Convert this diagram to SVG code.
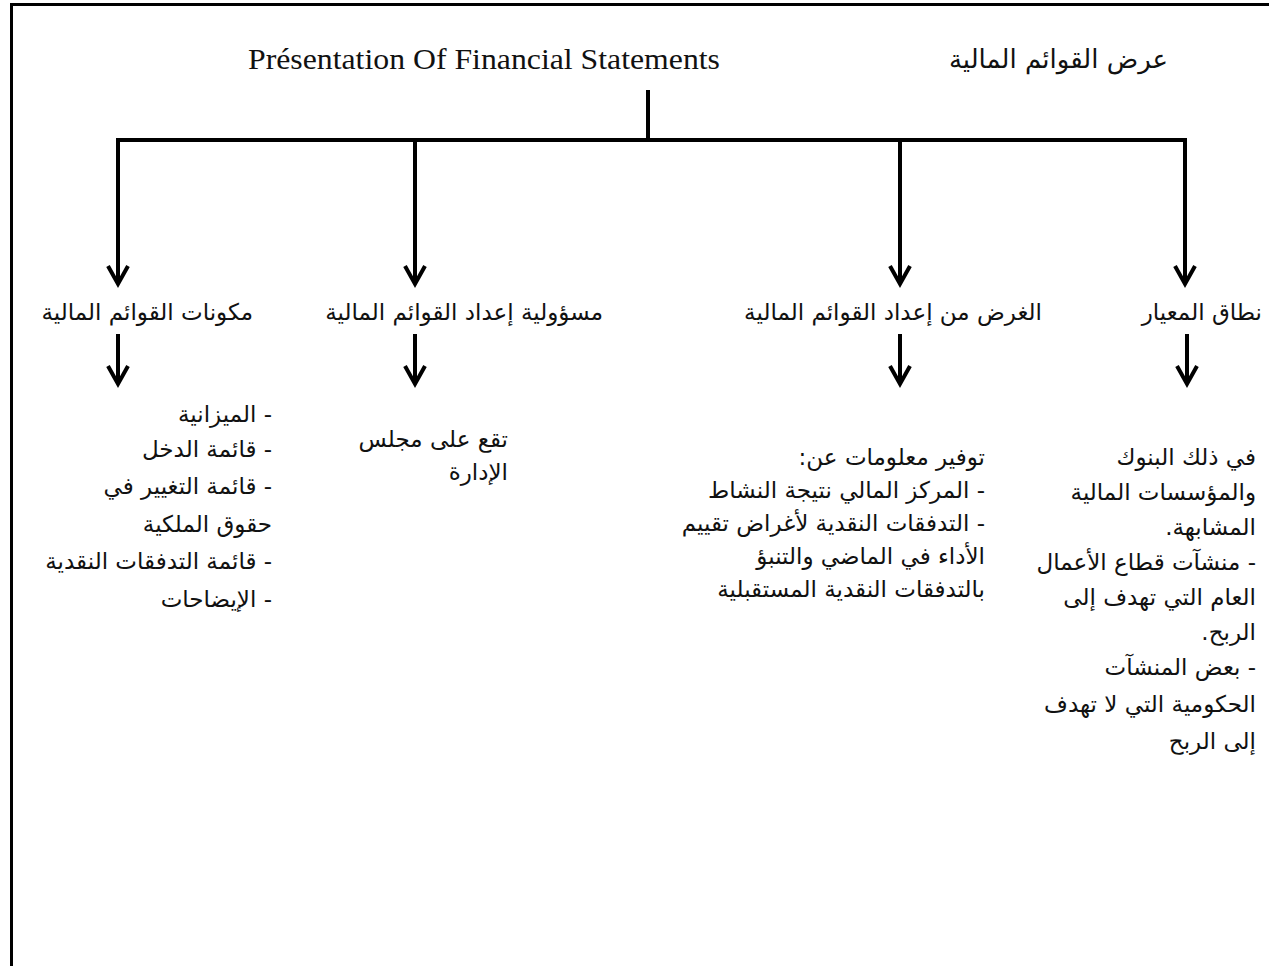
<svg xmlns="http://www.w3.org/2000/svg" width="1269" height="966" viewBox="0 0 1269 966">
<style>
.ar{font-family:"DejaVu Sans","Liberation Sans",sans-serif;font-size:23px;fill:#111;direction:rtl;text-anchor:start}
.en{font-family:"Liberation Serif",serif;font-size:30px;fill:#111}
.ln{stroke:#000;stroke-width:4;fill:none}
.ah{stroke:#000;stroke-width:4;fill:none;stroke-linejoin:miter}
.frame{stroke:#000;stroke-width:3;fill:none}
</style>
<rect width="1269" height="966" fill="#fff"/>
<path class="frame" d="M11.5 966 V4.5 H1269"/>
<g id="title">
<text class="en" x="248" y="69" textLength="472" lengthAdjust="spacingAndGlyphs">Présentation Of Financial Statements</text>
<text class="ar" x="1168" y="68" style="font-size:26px">عرض القوائم المالية</text>
</g>
<g id="connectors">
<path class="ln" d="M648 90 V140 M116 140 H1187 M118 140 V282 M415 140 V282 M900 140 V282 M1185 140 V282"/>
<path class="ah" d="M108 266 L118 284 L128 266 M405 266 L415 284 L425 266 M890 266 L900 284 L910 266 M1175 266 L1185 284 L1195 266"/>
<path class="ln" d="M118 334 V382 M415 334 V382 M900 334 V382 M1187 334 V382"/>
<path class="ah" d="M108 366 L118 384 L128 366 M405 366 L415 384 L425 366 M890 366 L900 384 L910 366 M1177 366 L1187 384 L1197 366"/>
</g>
<g id="node-scope">
<text class="ar" x="1262" y="320">نطاق المعيار</text>
<text class="ar" x="1256" y="465">في ذلك البنوك</text>
<text class="ar" x="1256" y="500">والمؤسسات المالية</text>
<text class="ar" x="1256" y="535">المشابهة.</text>
<text class="ar" x="1256" y="570">- منشآت قطاع الأعمال</text>
<text class="ar" x="1256" y="605">العام التي تهدف إلى</text>
<text class="ar" x="1256" y="640">الربح.</text>
<text class="ar" x="1256" y="675">- بعض المنشآت</text>
<text class="ar" x="1256" y="712">الحكومية التي لا تهدف</text>
<text class="ar" x="1256" y="749">إلى الربح</text>
</g>
<g id="node-purpose">
<text class="ar" x="1042" y="320">الغرض من إعداد القوائم المالية</text>
<text class="ar" x="985" y="465">توفير معلومات عن:</text>
<text class="ar" x="985" y="498">- المركز المالي نتيجة النشاط</text>
<text class="ar" x="985" y="531">- التدفقات النقدية لأغراض تقييم</text>
<text class="ar" x="985" y="564">الأداء في الماضي والتنبؤ</text>
<text class="ar" x="985" y="597">بالتدفقات النقدية المستقبلية</text>
</g>
<g id="node-responsibility">
<text class="ar" x="603" y="320">مسؤولية إعداد القوائم المالية</text>
<text class="ar" x="508" y="447">تقع على مجلس</text>
<text class="ar" x="508" y="480">الإدارة</text>
</g>
<g id="node-components">
<text class="ar" x="253" y="320">مكونات القوائم المالية</text>
<text class="ar" x="272" y="422">- الميزانية</text>
<text class="ar" x="272" y="457">- قائمة الدخل</text>
<text class="ar" x="272" y="494">- قائمة التغيير في</text>
<text class="ar" x="272" y="532">حقوق الملكية</text>
<text class="ar" x="272" y="569">- قائمة التدفقات النقدية</text>
<text class="ar" x="272" y="607">- الإيضاحات</text>
</g>
</svg>
